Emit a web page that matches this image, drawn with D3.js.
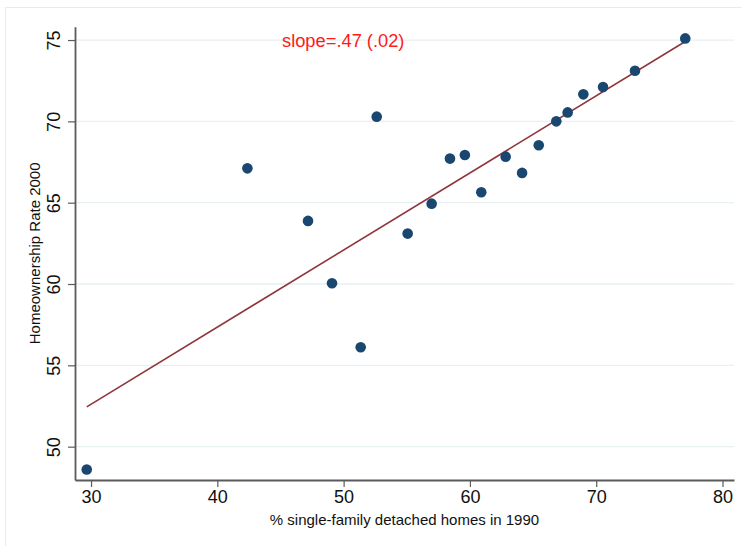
<!DOCTYPE html>
<html>
<head>
<meta charset="utf-8">
<script src="https://cdn.jsdelivr.net/npm/d3@7"></script>
<style>
  html, body { margin: 0; padding: 0; background: #fff; }
  svg { display: block; font-family: "Liberation Sans", Arial, Helvetica, sans-serif; }
</style>
</head>
<body>
<svg id="chart" width="742" height="546"></svg>
<script>
// % single-family detached homes in 1990 (x) vs. homeownership rate in 2000 (y)
const singleFamily1990 = [77.05, 73.07, 70.54, 68.98, 67.74, 66.84, 65.45, 64.13, 62.83, 60.90,
                          59.60, 58.42, 56.97, 55.07, 52.62, 51.35, 49.08, 47.18, 42.38, 29.66];
const ownership2000    = [75.10, 73.11, 72.11, 71.66, 70.55, 70.00, 68.53, 66.83, 67.83, 65.64,
                          67.93, 67.71, 64.94, 63.10, 70.29, 56.11, 60.05, 63.88, 67.11, 48.60];

// Linear fit: slope, its standard error, and intercept
const fitSlope = 0.474;
const fitSE = 0.02;
const fitIntercept = 38.39;

const xTicks = [30, 40, 50, 60, 70, 80];
const yTicks = [50, 55, 60, 65, 70, 75];

const svg = d3.select("#chart");
const W = 742, H = 546;
const plot = { left: 75, right: 734, top: 26.7, bottom: 480 };

// outer graph region border
svg.append("rect")
  .attr("x", 5.5).attr("y", 7.5)
  .attr("width", W + 20).attr("height", H + 20)
  .attr("fill", "none").attr("stroke", "#e4eded").attr("stroke-width", 1);

const x = d3.scaleLinear().domain([28.73, 80.91]).range([plot.left, plot.right]);
const y = d3.scaleLinear().domain([47.95, 75.82]).range([plot.bottom, plot.top]);

// horizontal gridlines
svg.append("g").selectAll("line").data(yTicks).join("line")
  .attr("x1", plot.left).attr("x2", plot.right)
  .attr("y1", d => y(d)).attr("y2", d => y(d))
  .attr("stroke", "#e8f0f2").attr("stroke-width", 1.3);

// fitted line over the observed range of x
const xs = d3.extent(singleFamily1990);
svg.append("line")
  .attr("x1", x(xs[0])).attr("y1", y(fitIntercept + fitSlope * xs[0]))
  .attr("x2", x(xs[1])).attr("y2", y(fitIntercept + fitSlope * xs[1]))
  .attr("stroke", "#90353b").attr("stroke-width", 1.6);

// scatter points
const pts = singleFamily1990.map((v, i) => [v, ownership2000[i]]);
svg.append("g").selectAll("circle").data(pts).join("circle")
  .attr("cx", d => x(d[0])).attr("cy", d => y(d[1]))
  .attr("r", 5.3)
  .attr("fill", "#1a476f");

// y axis
const yAxis = svg.append("g")
  .attr("transform", `translate(${plot.left},0)`)
  .call(d3.axisLeft(y).tickValues(yTicks).tickSize(7).tickSizeOuter(0));
yAxis.select(".domain").attr("stroke", "#5a5a5a").attr("stroke-width", 1.8);
yAxis.selectAll(".tick line").attr("stroke", "#5a5a5a").attr("stroke-width", 1.2);
yAxis.selectAll(".tick text")
  .attr("transform", "rotate(-90)")
  .attr("x", 0).attr("y", -15).attr("dy", 0)
  .attr("text-anchor", "middle")
  .attr("font-size", 18).attr("fill", "#111")
  .attr("font-family", "Liberation Sans, Arial, Helvetica, sans-serif");

// x axis
const xAxis = svg.append("g")
  .attr("transform", `translate(0,${plot.bottom})`)
  .call(d3.axisBottom(x).tickValues(xTicks).tickSize(7).tickSizeOuter(0));
xAxis.select(".domain").attr("stroke", "#5a5a5a").attr("stroke-width", 1.8);
xAxis.selectAll(".tick line").attr("stroke", "#5a5a5a").attr("stroke-width", 1.2);
xAxis.selectAll(".tick text")
  .attr("font-size", 18).attr("fill", "#111")
  .attr("font-family", "Liberation Sans, Arial, Helvetica, sans-serif");

// axis titles
svg.append("text")
  .attr("transform", `translate(40,${(plot.top + plot.bottom) / 2}) rotate(-90)`)
  .attr("text-anchor", "middle")
  .attr("font-size", 15).attr("fill", "#111")
  .text("Homeownership Rate 2000");

svg.append("text")
  .attr("x", (plot.left + plot.right) / 2).attr("y", 525)
  .attr("text-anchor", "middle")
  .attr("font-size", 15).attr("fill", "#111")
  .text("% single-family detached homes in 1990");

// slope annotation
const fmt = v => d3.format(".2f")(v).replace(/^0/, "");
svg.append("text")
  .attr("x", 282).attr("y", 47)
  .attr("font-size", 18.3).attr("fill", "#ff1a1a")
  .text(`slope=${fmt(fitSlope)} (${fmt(fitSE)})`);
</script>
</body>
</html>
